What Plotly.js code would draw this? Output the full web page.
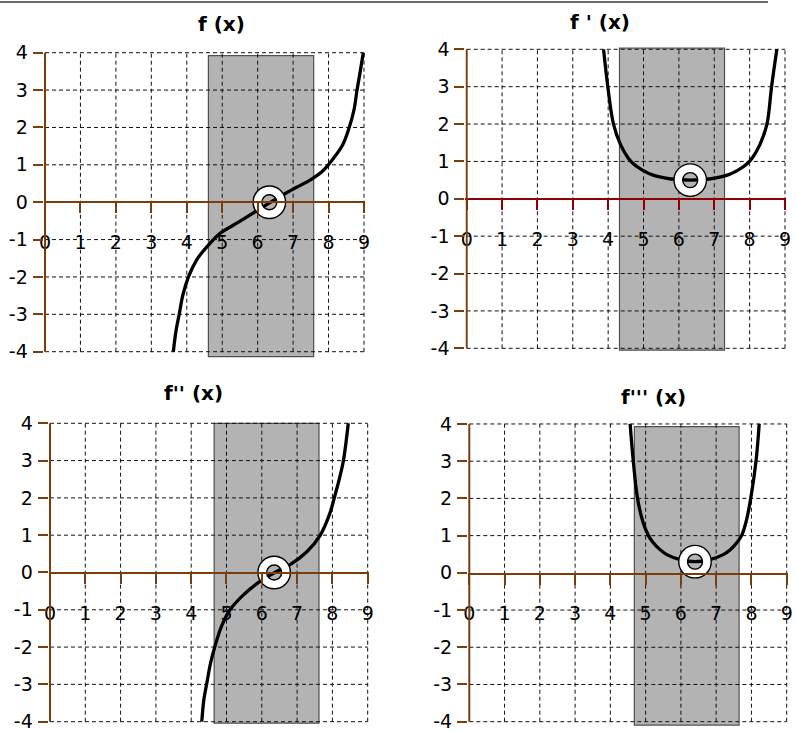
<!DOCTYPE html>
<html>
<head>
<meta charset="utf-8">
<script src="https://cdn.plot.ly/plotly-3.0.1.min.js"></script>
<style>
  html, body { margin: 0; padding: 0; background: #fff; }
  #chart { width: 796px; height: 731px; }
</style>
</head>
<body>
<div id="chart"></div>
<script>
// ---- data -------------------------------------------------------------
const xTicks = [0, 1, 2, 3, 4, 5, 6, 7, 8, 9];
const yTicks = [-4, -3, -2, -1, 0, 1, 2, 3, 4];

const titles = ["f (x)", "f ' (x)", "f'' (x)", "f''' (x)"];

// f(x)
const f0X = [3.62, 3.70, 3.79, 3.89, 4.05, 4.28, 4.57, 4.94, 5.32, 5.79, 6.31, 6.83, 7.1, 7.49, 7.85, 8.15, 8.40, 8.58, 8.72, 8.80, 8.88, 8.98];
const f0Y = [-4, -3.42, -2.98, -2.48, -1.99, -1.54, -1.19, -0.83, -0.61, -0.34, -0.03, 0.26, 0.40, 0.60, 0.85, 1.19, 1.54, 1.99, 2.48, 2.98, 3.42, 4];
// f'(x)
const f1X = [3.87, 3.99, 4.15, 4.35, 4.56, 4.72, 4.98, 5.25, 5.78, 6.32, 6.86, 7.39, 7.66, 7.92, 8.08, 8.29, 8.49, 8.62, 8.77];
const f1Y = [4, 3, 2, 1.45, 1.1, 0.93, 0.76, 0.64, 0.53, 0.5, 0.53, 0.64, 0.76, 0.93, 1.1, 1.45, 2, 3, 4];
// f''(x)
const f2X = [4.30, 4.36, 4.44, 4.55, 4.67, 4.86, 5.10, 5.48, 5.95, 6.37, 6.80, 7.27, 7.65, 7.93, 8.05, 8.18, 8.31, 8.45];
const f2Y = [-4, -3.4, -2.98, -2.42, -1.99, -1.44, -1.0, -0.6, -0.24, 0, 0.21, 0.55, 0.99, 1.59, 1.99, 2.45, 2.99, 4];
// f'''(x)
const f3X = [4.56, 4.65, 4.77, 4.92, 5.08, 5.2, 5.4, 5.6, 6.0, 6.4, 6.8, 7.2, 7.4, 7.6, 7.72, 7.85, 7.98, 8.13, 8.22];
const f3Y = [4, 3, 2, 1.38, 1, 0.83, 0.63, 0.49, 0.35, 0.3, 0.35, 0.49, 0.62, 0.83, 1.0, 1.38, 2, 3, 4];

// highlighted point on each curve
const pointX = [6.33, 6.32, 6.35, 6.4];
const pointY = [0.0, 0.5, 0.0, 0.3];

// shaded interval on each panel
const bandX0 = [4.61, 4.32, 4.65, 4.68];
const bandX1 = [7.58, 7.29, 7.62, 7.65];
const bandY0 = [-4.13, -4.05, -4.04, -4.09];
const bandY1 = [3.92, 4.03, 4.0, 3.93];

const curvesX = [f0X, f1X, f2X, f3X];
const curvesY = [f0Y, f1Y, f2Y, f3Y];

// ---- layout geometry (pixel frame of each panel) -----------------------
const W = 796, H = 731;
const XR = [-0.04, 9.04];
const YR = [-4.25, 4.15];
const panels = [
  { x0: 45,    x9: 364,   y4: 52.7,  ym4: 351.7, title: [221, 24] },
  { x0: 466.7, x9: 785,   y4: 49.3,  ym4: 348.3, title: [600, 22] },
  { x0: 50,    x9: 367.7, y4: 423.3, ym4: 722.3, title: [193, 393] },
  { x0: 469.3, x9: 786.7, y4: 424,   ym4: 723.3, title: [653, 397] }
];
const BROWN = "#7a3d0c";
const DARKRED = "#8b0000";
const xAxisColors = [BROWN, DARKRED, BROWN, BROWN];
const FONT = "DejaVu Sans, Verdana, sans-serif";

const layout = {
  width: W, height: H,
  margin: { l: 0, r: 0, t: 0, b: 0 },
  paper_bgcolor: "#ffffff",
  plot_bgcolor: "rgba(0,0,0,0)",
  showlegend: false,
  font: { family: FONT, size: 19, color: "#000" },
  shapes: [],
  annotations: []
};

// thin rule across the top of the figure
layout.shapes.push({
  type: "line", xref: "paper", yref: "paper",
  x0: 0, x1: 768 / W, y0: 1 - 2 / H, y1: 1 - 2 / H,
  line: { color: "#3a3a3a", width: 1.5 }
});

const traces = [];

panels.forEach((p, i) => {
  const n = i === 0 ? "" : String(i + 1);
  const xa = "x" + n, ya = "y" + n;

  const pxPerX = (p.x9 - p.x0) / 9;
  const pxPerY = (p.ym4 - p.y4) / 8;
  const left = p.x0 + XR[0] * pxPerX;
  const right = p.x0 + XR[1] * pxPerX;
  const top = p.y4 - (YR[1] - 4) * pxPerY;
  const bottom = p.ym4 + (-4 - YR[0]) * pxPerY;
  const zeroPx = (p.y4 + p.ym4) / 2;

  layout["xaxis" + n] = {
    domain: [left / W, right / W],
    range: XR,
    anchor: "free",
    position: 1 - zeroPx / H,
    showgrid: false, zeroline: false,
    showline: true, linecolor: xAxisColors[i], linewidth: 2,
    ticks: "outside", ticklen: 10, tickwidth: 2, tickcolor: xAxisColors[i],
    tickvals: xTicks, ticktext: xTicks.map(String),
    ticklabelstandoff: 13,
    ticklabeloverflow: "allow",
    tickfont: { family: FONT, size: 19, color: "#000" },
    fixedrange: true
  };
  layout["yaxis" + n] = {
    domain: [1 - bottom / H, 1 - top / H],
    range: YR,
    anchor: xa,
    showgrid: false, zeroline: false, showline: false,
    ticks: "outside", ticklen: 10, tickwidth: 2, tickcolor: BROWN,
    tickvals: yTicks, ticktext: yTicks.map(String),
    ticklabelstandoff: 1,
    ticklabeloverflow: "allow",
    tickfont: { family: FONT, size: 19, color: "#000" },
    fixedrange: true
  };

  // shaded interval
  layout.shapes.push({
    type: "rect", xref: xa, yref: ya, layer: "below",
    x0: bandX0[i], x1: bandX1[i], y0: bandY0[i], y1: bandY1[i],
    fillcolor: "#b3b3b3", line: { color: "#505050", width: 1.2 }
  });

  // dashed grid
  xTicks.filter(v => v !== 0).forEach(v => {
    layout.shapes.push({
      type: "line", xref: xa, yref: ya, layer: "below",
      x0: v, x1: v, y0: yTicks[0], y1: yTicks[yTicks.length - 1],
      line: { color: "#111", width: 1, dash: "4px,3px" }
    });
  });
  yTicks.filter(v => v !== 0).forEach(v => {
    layout.shapes.push({
      type: "line", xref: xa, yref: ya, layer: "below",
      x0: xTicks[0], x1: xTicks[xTicks.length - 1], y0: v, y1: v,
      line: { color: "#111", width: 1, dash: "4px,3px" }
    });
  });

  // vertical axis line spanning the labelled range
  layout.shapes.push({
    type: "line", xref: xa, yref: ya, layer: "above",
    x0: 0, x1: 0, y0: yTicks[0], y1: yTicks[yTicks.length - 1],
    line: { color: BROWN, width: 2 }
  });

  // panel title
  layout.annotations.push({
    xref: "paper", yref: "paper",
    x: p.title[0] / W, y: 1 - p.title[1] / H,
    xanchor: "center", yanchor: "middle",
    text: "<b>" + titles[i] + "</b>",
    showarrow: false,
    font: { family: FONT, size: 20, color: "#000" }
  });

  // curve
  traces.push({
    type: "scatter", mode: "lines",
    x: curvesX[i], y: curvesY[i],
    xaxis: xa, yaxis: ya,
    line: { color: "#000", width: 3.3, shape: "spline", smoothing: 1 },
    hoverinfo: "skip"
  });

  // ring marker on the curve: white band with black edges
  const px = [pointX[i]], py = [pointY[i]];
  traces.push({
    type: "scatter", mode: "markers", x: px, y: py, xaxis: xa, yaxis: ya,
    marker: { symbol: "circle-open", size: 24, color: "#ffffff", line: { width: 8.5 } },
    hoverinfo: "skip"
  });
  traces.push({
    type: "scatter", mode: "markers", x: px, y: py, xaxis: xa, yaxis: ya,
    marker: { symbol: "circle-open", size: 32.5, color: "#000000", line: { width: 1.4 } },
    hoverinfo: "skip"
  });
  traces.push({
    type: "scatter", mode: "markers", x: px, y: py, xaxis: xa, yaxis: ya,
    marker: { symbol: "circle-open", size: 15, color: "#000000", line: { width: 1.4 } },
    hoverinfo: "skip"
  });
});

Plotly.newPlot("chart", traces, layout, { displayModeBar: false, staticPlot: true });
</script>
</body>
</html>
